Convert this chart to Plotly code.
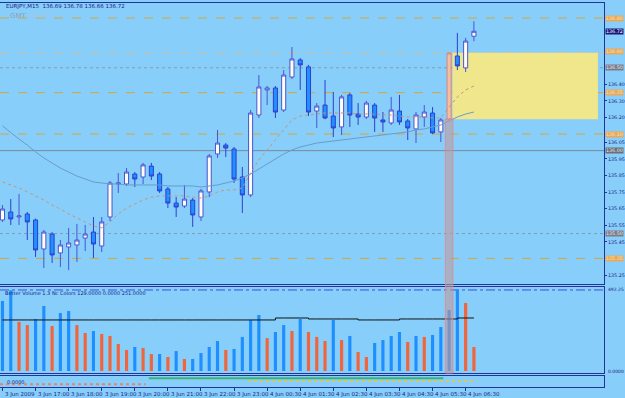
import plotly.graph_objects as go

# ---------------- data ----------------
time_labels = ["3 Jun 2009", "3 Jun 17:00", "3 Jun 18:00", "3 Jun 19:00", "3 Jun 20:00",
               "3 Jun 21:00", "3 Jun 22:00", "3 Jun 23:00", "4 Jun 00:30", "4 Jun 01:30",
               "4 Jun 02:30", "4 Jun 03:30", "4 Jun 04:30", "4 Jun 05:30", "4 Jun 06:30"]
label_every = 4

opens = [135.582, 135.630, 135.600, 135.618, 135.582, 135.407, 135.497, 135.383, 135.419, 135.431,
         135.473, 135.509, 135.425, 135.600, 135.799, 135.799, 135.859, 135.841, 135.907, 135.859,
         135.769, 135.684, 135.666, 135.702, 135.600, 135.751, 135.980, 136.034, 136.010, 135.841,
         135.733, 136.215, 136.366, 136.378, 136.245, 136.444, 136.547, 136.505, 136.239, 136.275,
         136.209, 136.143, 136.336, 136.221, 136.203, 136.275, 136.185, 136.167, 136.239, 136.179,
         136.131, 136.203, 136.227, 136.113, 136.191, 136.571, 136.499, 136.69]
highs = [135.672, 135.708, 135.739, 135.630, 135.590, 135.522, 135.509, 135.461, 135.534, 135.558,
         135.552, 135.600, 135.600, 135.817, 135.865, 135.895, 135.871, 135.926, 135.926, 135.871,
         135.781, 135.720, 135.793, 135.714, 135.769, 135.980, 136.125, 136.046, 136.022, 135.901,
         136.245, 136.456, 136.390, 136.390, 136.486, 136.625, 136.559, 136.517, 136.287, 136.426,
         136.354, 136.336, 136.348, 136.287, 136.300, 136.287, 136.233, 136.324, 136.336, 136.191,
         136.233, 136.275, 136.263, 136.197, 136.595, 136.710, 136.680, 136.78]
lows = [135.570, 135.552, 135.552, 135.461, 135.359, 135.292, 135.323, 135.298, 135.280, 135.329,
        135.395, 135.353, 135.389, 135.576, 135.745, 135.787, 135.781, 135.799, 135.823, 135.745,
        135.654, 135.600, 135.654, 135.540, 135.576, 135.720, 135.956, 135.962, 135.805, 135.624,
        135.720, 136.197, 136.275, 136.197, 136.233, 136.432, 136.366, 136.209, 136.137, 136.190,
        136.082, 136.094, 136.143, 136.155, 136.191, 136.113, 136.113, 136.155, 136.155, 136.064,
        136.046, 136.143, 136.100, 136.052, 136.185, 136.486, 136.474, 136.66]
closes = [135.648, 135.588, 135.606, 135.570, 135.401, 135.509, 135.371, 135.431, 135.443, 135.461,
          135.497, 135.437, 135.570, 135.805, 135.805, 135.871, 135.829, 135.914, 135.847, 135.757,
          135.684, 135.660, 135.708, 135.612, 135.757, 135.968, 136.046, 136.016, 135.829, 135.733,
          136.227, 136.384, 136.378, 136.233, 136.456, 136.553, 136.517, 136.233, 136.269, 136.197,
          136.137, 136.324, 136.215, 136.203, 136.287, 136.197, 136.173, 136.245, 136.173, 136.137,
          136.215, 136.233, 136.107, 136.185, 136.589, 136.511, 136.661, 136.72]
highlight_bar = 54

ma_fast = [135.811, 135.793, 135.775, 135.751, 135.727, 135.702, 135.672, 135.648, 135.618, 135.594,
           135.570, 135.546, 135.534, 135.570, 135.618, 135.654, 135.678, 135.702, 135.720, 135.727,
           135.727, 135.727, 135.727, 135.720, 135.714, 135.727, 135.751, 135.763, 135.763, 135.775,
           135.865, 135.944, 136.004, 136.064, 136.125, 136.185, 136.209, 136.215, 136.221, 136.227,
           136.227, 136.227, 136.227, 136.221, 136.221, 136.221, 136.215, 136.215, 136.209, 136.203,
           136.203, 136.203, 136.197, 136.197, 136.263, 136.324, 136.366, 136.390]
ma_slow = [136.149, 136.107, 136.070, 136.034, 135.992, 135.956, 135.926, 135.895, 135.871, 135.847,
           135.829, 135.811, 135.805, 135.799, 135.799, 135.793, 135.793, 135.793, 135.793, 135.793,
           135.787, 135.787, 135.787, 135.787, 135.781, 135.787, 135.793, 135.805, 135.817, 135.835,
           135.859, 135.889, 135.920, 135.950, 135.980, 136.004, 136.022, 136.034, 136.046, 136.052,
           136.058, 136.064, 136.070, 136.076, 136.082, 136.088, 136.094, 136.100, 136.107, 136.113,
           136.125, 136.131, 136.143, 136.155, 136.179, 136.203, 136.221, 136.233]

volumes = [425, 490, 298, 279, 316, 395, 273, 352, 364, 279,
           231, 243, 225, 213, 164, 128, 146, 140, 103, 103,
           85, 121, 73, 73, 109, 146, 182, 128, 134, 207,
           310, 340, 200, 237, 279, 243, 316, 237, 207, 182,
           310, 188, 213, 115, 85, 170, 188, 213, 237, 176,
           213, 207, 219, 267, 371, 492, 413, 146]
vol_kind = list("BBOOBBOBBOOBOOOOBOOBOBOBBBBOBB" "BBOBBOBOOOBOBOOBBBBOBOBBBBOO")
vol_avg = [310] * 30 + [310, 310, 310, 322, 322, 322, 322, 316, 316, 316, 316, 316, 316,
                        310, 310, 310, 310, 310, 316, 316, 316, 316, 316, 316, 316, 322, 322, 322]
vol_level = 492.25

levels_orange = [136.80, 136.35, 136.10, 135.35]
level_pale = 136.59
levels_dotted = [136.50, 135.50]
level_solid = 136.00
zone_top, zone_bottom = 136.59, 136.19
zone_start, zone_end = 54.4, 72.0

price_ticks = [136.40, 136.30, 136.20, 136.05, 135.95, 135.85, 135.75, 135.65, 135.55, 135.45, 135.25]
tag_labels = [(136.80, "136.80", "#e7a95c", "#fbe3b8"), (136.72, "136.72", "#1a1a7a", "#ffffff"),
              (136.60, "136.60", "#e7a95c", "#fbe3b8"), (136.50, "136.50", "#7d7d8a", "#e8e8ee"),
              (136.35, "136.35", "#e7a95c", "#fbe3b8"), (136.10, "136.10", "#e7a95c", "#fbe3b8"),
              (136.00, "136.00", "#6e6e78", "#e8e8ee"), (135.50, "135.50", "#7d7d8a", "#e8e8ee"),
              (135.35, "135.35", "#e7a95c", "#fbe3b8")]

# bottom indicator segments (start bar, end bar, level)
ind_salmon = (0, 17, 0.25)
ind_green = (18, 53, 0.8)
ind_khaki = (30, 57, 0.55)

header = "EURJPY,M15  136.69 136.78 136.66 136.72"
vol_title = "Better Volume 1.3 Nc Colors 129.0000 0.0000 251.0000"

# ---------------- figure ----------------
W, H = 625, 398
BG = "#87CEFA"
NAVY = "#24339a"
FONT = "DejaVu Sans"

n = len(opens)
xs = list(range(n))
norm = [i for i in xs if i != highlight_bar]


def py(px):
    return 1 - px / H


fig = go.Figure()

fig.add_trace(go.Candlestick(
    x=norm, open=[opens[i] for i in norm], high=[highs[i] for i in norm],
    low=[lows[i] for i in norm], close=[closes[i] for i in norm],
    increasing=dict(fillcolor="#FFFDF0", line=dict(color="#4a55d6", width=1)),
    decreasing=dict(fillcolor="#1E90FF", line=dict(color="#2e3fd0", width=1)),
    whiskerwidth=0, xaxis="x", yaxis="y", showlegend=False, hoverinfo="skip"))
fig.add_trace(go.Candlestick(
    x=[highlight_bar], open=[opens[highlight_bar]], high=[highs[highlight_bar]],
    low=[lows[highlight_bar]], close=[closes[highlight_bar]],
    increasing=dict(fillcolor="#F7BE9C", line=dict(color="#d08a8a", width=1)),
    decreasing=dict(fillcolor="#F7BE9C", line=dict(color="#d08a8a", width=1)),
    whiskerwidth=0, xaxis="x", yaxis="y", showlegend=False, hoverinfo="skip"))

fig.add_trace(go.Scatter(x=xs, y=ma_slow, mode="lines", line=dict(color="#6a9ccc", width=1),
                         xaxis="x", yaxis="y", showlegend=False, hoverinfo="skip"))
fig.add_trace(go.Scatter(x=xs, y=ma_fast, mode="lines", line=dict(color="#c89478", width=1, dash="dot"),
                         xaxis="x", yaxis="y", showlegend=False, hoverinfo="skip"))

# volume
colors = ["#1E8FFF" if k == "B" else "#F2643A" for k in vol_kind]
fig.add_trace(go.Bar(x=xs, y=volumes, width=0.38, marker=dict(color=colors, line=dict(width=0)),
                     xaxis="x2", yaxis="y2", showlegend=False, hoverinfo="skip"))
fig.add_trace(go.Scatter(x=xs, y=vol_avg, mode="lines", line=dict(color="#111111", width=1, shape="hv"),
                         xaxis="x2", yaxis="y2", showlegend=False, hoverinfo="skip"))

# bottom indicator
for (a, b, lv), col, dash in [(ind_salmon, "#e8846a", "dot"), (ind_khaki, "#d8c860", "dot"),
                              (ind_green, "#3cb371", "solid")]:
    fig.add_trace(go.Scatter(x=[a - 0.3, b + 0.3], y=[lv, lv], mode="lines",
                             line=dict(color=col, width=2, dash=dash),
                             xaxis="x3", yaxis="y3", showlegend=False, hoverinfo="skip"))

shapes = []
# zone
shapes.append(dict(type="rect", xref="x", yref="y", x0=zone_start, x1=zone_end, y0=zone_bottom,
                   y1=zone_top, fillcolor="#F0E68C", line=dict(width=0), layer="below"))
# highlight band
shapes.append(dict(type="rect", xref="x", yref="paper", x0=highlight_bar - 0.45, x1=highlight_bar + 0.45,
                   y0=py(373), y1=py(119), fillcolor="rgba(200,150,150,0.55)",
                   line=dict(color="rgba(220,140,140,0.8)", width=1), layer="above"))
for lv in levels_orange:
    shapes.append(dict(type="line", xref="paper", yref="y", x0=0, x1=604 / W, y0=lv, y1=lv,
                       line=dict(color="#d9a53a", width=1, dash="dash"), layer="below"))
shapes.append(dict(type="line", xref="paper", yref="y", x0=0, x1=604 / W, y0=level_pale, y1=level_pale,
                   line=dict(color="#cdbf9a", width=1, dash="dash"), layer="below"))
for lv in levels_dotted:
    shapes.append(dict(type="line", xref="paper", yref="y", x0=0, x1=604 / W, y0=lv, y1=lv,
                       line=dict(color="#8a9aa8", width=1, dash="dot"), layer="below"))
shapes.append(dict(type="line", xref="paper", yref="y", x0=0, x1=604 / W, y0=level_solid, y1=level_solid,
                   line=dict(color="#7a8a9a", width=1), layer="below"))
shapes.append(dict(type="line", xref="paper", yref="y2", x0=0, x1=604 / W, y0=vol_level, y1=vol_level,
                   line=dict(color="#3a50e0", width=1, dash="dashdot"), layer="below"))

annotations = [
    dict(text=header, xref="paper", yref="paper", x=4 / W, y=py(1), xanchor="left", yanchor="top",
         showarrow=False, font=dict(family=FONT, size=5.5, color="#1a2280")),
    dict(text="GMT", xref="paper", yref="paper", x=8 / W, y=py(10), xanchor="left", yanchor="top",
         showarrow=False, font=dict(family=FONT, size=7, color="#8fa0b8")),
    dict(text="07:50", xref="paper", yref="paper", x=27 / W, y=py(10), xanchor="left", yanchor="top",
         showarrow=False, font=dict(family=FONT, size=7, color="#a8c4e4")),
    dict(text=vol_title, xref="paper", yref="paper", x=3 / W, y=py(288), xanchor="left", yanchor="top",
         showarrow=False, font=dict(family=FONT, size=5, color="#1a2280")),
    dict(text="0.0000", xref="paper", yref="paper", x=5 / W, y=py(382), xanchor="left", yanchor="middle",
         showarrow=False, font=dict(family=FONT, size=5, color="#1a2280")),
    dict(text="492.25", xref="paper", yref="y2", x=606 / W, y=vol_level, xanchor="left", yanchor="middle",
         showarrow=False, font=dict(family=FONT, size=4.5, color="#1a2280")),
    dict(text="0.0000", xref="paper", yref="paper", x=606 / W, y=py(371), xanchor="left", yanchor="middle",
         showarrow=False, font=dict(family=FONT, size=4.5, color="#1a2280")),
]
for k, lab in enumerate(time_labels):
    annotations.append(dict(text=lab, xref="x3", yref="paper", x=k * label_every + 0.1, y=py(389),
                            xanchor="left", yanchor="top", showarrow=False,
                            font=dict(family=FONT, size=5.5, color="#1a2280")))
for price, txt, bg, fg in tag_labels:
    annotations.append(dict(text=txt, xref="paper", yref="y", x=605 / W, y=price, xanchor="left",
                            yanchor="middle", showarrow=False, bgcolor=bg, borderpad=0,
                            font=dict(family=FONT, size=4.8, color=fg)))

xr = [-0.3, 72.73]
xcommon = dict(range=xr, showgrid=False, zeroline=False, showline=True, mirror=True,
               linecolor=NAVY, linewidth=1, domain=[0, 604 / W], fixedrange=True)
ycommon = dict(showgrid=False, zeroline=False, showline=True, mirror=True, linecolor=NAVY,
               linewidth=1, side="right", fixedrange=True,
               tickfont=dict(family=FONT, size=4.8, color="#1a2280"))

fig.update_layout(
    width=W, height=H, margin=dict(l=0, r=0, t=0, b=0, autoexpand=False),
    paper_bgcolor=BG, plot_bgcolor=BG, showlegend=False,
    xaxis=dict(**xcommon, anchor="y", showticklabels=False, rangeslider=dict(visible=False)),
    xaxis2=dict(**xcommon, anchor="y2", matches="x", showticklabels=False),
    xaxis3=dict(**xcommon, anchor="y3", matches="x", showticklabels=False,
                tickvals=[k * label_every for k in range(len(time_labels))], ticks="outside",
                ticklen=3, tickcolor=NAVY),
    yaxis=dict(**ycommon, domain=[py(284), py(3)], range=[135.1958, 136.8905],
               tickvals=price_ticks, ticktext=[f"{v:.2f}" for v in price_ticks],
               ticks="outside", ticklen=2, tickcolor=NAVY),
    yaxis2=dict(**ycommon, domain=[py(373), py(287)], range=[-12.1, 510.2], showticklabels=False,
                ticks=""),
    yaxis3=dict(**ycommon, domain=[py(387), py(376)], range=[0, 1], showticklabels=False, ticks=""),
    shapes=shapes, annotations=annotations,
)

fig.write_html("out.html")
